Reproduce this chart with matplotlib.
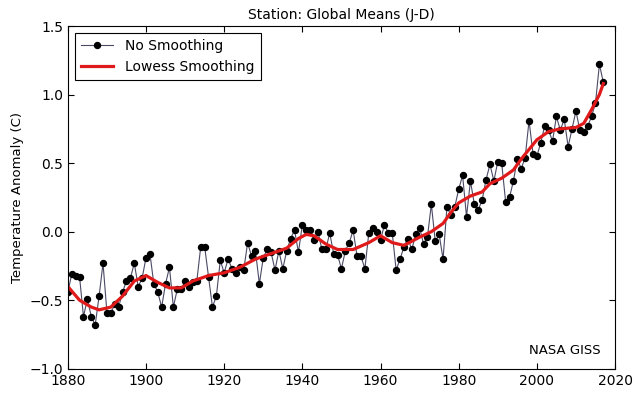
import numpy as np
import matplotlib
matplotlib.use("Agg")
import matplotlib.pyplot as plt

# annual means, 1880-2017
years = np.arange(1880, 2018)
anom = [-0.44, -0.31, -0.32, -0.33, -0.62, -0.49, -0.62, -0.68, -0.47, -0.23,
        -0.59, -0.59, -0.53, -0.55, -0.44, -0.36, -0.34, -0.23, -0.40, -0.34,
        -0.19, -0.16, -0.38, -0.44, -0.55, -0.38, -0.26, -0.55, -0.42, -0.42,
        -0.36, -0.40, -0.37, -0.36, -0.11, -0.11, -0.33, -0.55, -0.47, -0.21,
        -0.30, -0.20, -0.27, -0.30, -0.26, -0.28, -0.08, -0.18, -0.14, -0.38,
        -0.19, -0.13, -0.15, -0.28, -0.14, -0.27, -0.14, -0.05, 0.01, -0.15,
        0.05, 0.01, 0.01, -0.06, 0.00, -0.13, -0.13, -0.01, -0.16, -0.17,
        -0.27, -0.14, -0.08, 0.01, -0.18, -0.18, -0.27, -0.01, 0.03, 0.00,
        -0.06, 0.05, -0.01, -0.01, -0.28, -0.20, -0.11, -0.05, -0.13, -0.02,
        0.03, -0.09, -0.04, 0.20, -0.07, -0.02, -0.20, 0.18, 0.12, 0.18,
        0.31, 0.41, 0.11, 0.37, 0.20, 0.16, 0.23, 0.38, 0.49, 0.37,
        0.51, 0.50, 0.22, 0.25, 0.37, 0.53, 0.46, 0.54, 0.81, 0.57,
        0.55, 0.65, 0.77, 0.74, 0.66, 0.84, 0.74, 0.82, 0.62, 0.75,
        0.88, 0.74, 0.73, 0.77, 0.84, 0.94, 1.22, 1.09]

# the red smoothed curve at a few years
lowess_years = [1880, 1883, 1886, 1888, 1891, 1894, 1897, 1900, 1903, 1906,
                1909, 1912, 1916, 1920, 1924, 1928, 1932, 1936, 1939, 1941,
                1943, 1946, 1949, 1953, 1957, 1960, 1963, 1966, 1970, 1973,
                1976, 1978, 1980, 1983, 1986, 1988, 1991, 1994, 1996, 1998,
                2000, 2003, 2006, 2010, 2012, 2014, 2016, 2017]
lowess = [-0.40, -0.50, -0.55, -0.57, -0.55, -0.47, -0.36, -0.32, -0.37, -0.41,
          -0.41, -0.36, -0.32, -0.30, -0.26, -0.20, -0.16, -0.12, -0.05, -0.02,
          -0.03, -0.09, -0.13, -0.13, -0.08, -0.03, -0.08, -0.10, -0.04, 0.00,
          0.06, 0.14, 0.21, 0.26, 0.29, 0.35, 0.39, 0.45, 0.53, 0.60,
          0.67, 0.73, 0.75, 0.76, 0.79, 0.89, 1.00, 1.08]

fig = plt.figure(figsize=(6.4, 3.94), dpi=100)
ax = fig.add_axes([0.106, 0.064, 0.855, 0.870])

ax.plot(years, anom, color="#4a4a66", lw=0.8, marker="o", ms=4.3,
        mfc="black", mec="black", label="No Smoothing")
ax.plot(lowess_years, lowess, color="#e01a1a", lw=2.3, label="Lowess Smoothing")

ax.set_xlim(1880, 2020)
ax.set_ylim(-1.0, 1.5)
ax.set_xticks(range(1880, 2021, 20))
ax.set_yticks([-1.0, -0.5, 0.0, 0.5, 1.0, 1.5])
ax.tick_params(direction="in", top=True, right=True, labelsize=10, length=4)
ax.set_title("Station: Global Means (J-D)", fontsize=10, pad=5)
ax.set_ylabel("Temperature Anomaly (C)", fontsize=9.5)
ax.text(0.973, 0.035, "NASA GISS", transform=ax.transAxes, ha="right",
        va="bottom", fontsize=9.5)

leg = ax.legend(loc="upper left", fontsize=10, fancybox=False,
                framealpha=1, edgecolor="black", handlelength=2.3,
                borderpad=0.45, labelspacing=0.5, handletextpad=0.9)
leg.get_frame().set_linewidth(0.8)

fig.savefig("out.png", dpi=100, facecolor="white")
